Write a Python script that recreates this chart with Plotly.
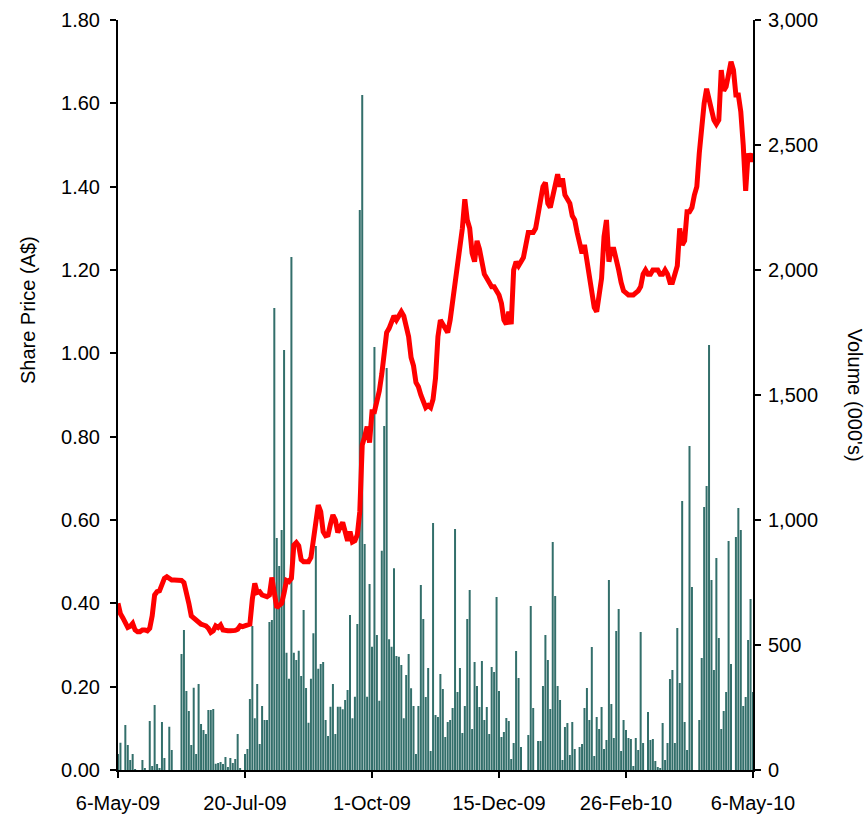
import plotly.graph_objects as go

# Share price (A$) per trading day, 6-May-09 .. 6-May-10
price = [
    0.40, 0.375, 0.365, 0.35, 0.342, 0.345, 0.352, 0.336, 0.332, 0.332,
    0.336, 0.336, 0.334, 0.34, 0.37, 0.42, 0.428, 0.43, 0.445, 0.46,
    0.464, 0.46, 0.456, 0.456, 0.456, 0.456, 0.455, 0.45, 0.43, 0.40,
    0.37, 0.364, 0.36, 0.356, 0.35, 0.348, 0.346, 0.34, 0.33, 0.334,
    0.346, 0.342, 0.348, 0.336, 0.334, 0.334, 0.334, 0.334, 0.335, 0.338,
    0.346, 0.344, 0.346, 0.35, 0.35, 0.41, 0.448, 0.426, 0.428, 0.42,
    0.418, 0.416, 0.42, 0.462, 0.425, 0.39, 0.395, 0.40, 0.425, 0.455,
    0.452, 0.46, 0.54, 0.546, 0.538, 0.505, 0.50, 0.50, 0.50, 0.51,
    0.56, 0.61, 0.636, 0.62, 0.572, 0.562, 0.564, 0.59, 0.612, 0.60,
    0.57, 0.584, 0.594, 0.572, 0.55, 0.572, 0.547, 0.55, 0.565, 0.62,
    0.78, 0.80, 0.824, 0.786, 0.86, 0.86, 0.88, 0.91, 0.95, 1.00,
    1.05, 1.06, 1.08, 1.09, 1.08, 1.09, 1.10, 1.09, 1.07, 1.04,
    0.99, 0.97, 0.93, 0.92, 0.90, 0.88, 0.87, 0.875, 0.87, 0.89,
    0.94, 1.04, 1.08, 1.07, 1.06, 1.05, 1.08, 1.12, 1.16, 1.20,
    1.24, 1.30, 1.37, 1.32, 1.30, 1.24, 1.22, 1.27, 1.25, 1.21,
    1.19, 1.18, 1.17, 1.16, 1.16, 1.15, 1.14, 1.12, 1.08, 1.07,
    1.10, 1.07, 1.20, 1.22, 1.21, 1.22, 1.23, 1.26, 1.29, 1.29,
    1.29, 1.30, 1.34, 1.37, 1.40, 1.41, 1.36, 1.35, 1.38, 1.41,
    1.43, 1.40, 1.42, 1.38, 1.37, 1.36, 1.33, 1.32, 1.29, 1.26,
    1.24, 1.26, 1.22, 1.19, 1.15, 1.11, 1.10, 1.15, 1.18, 1.28,
    1.32, 1.22, 1.25, 1.25, 1.23, 1.20, 1.17, 1.15, 1.145, 1.14,
    1.14, 1.14, 1.145, 1.15, 1.16, 1.19, 1.20, 1.19, 1.19, 1.20,
    1.20, 1.20, 1.19, 1.19, 1.20, 1.19, 1.17, 1.17, 1.19, 1.21,
    1.30, 1.26, 1.27, 1.34, 1.34, 1.35, 1.38, 1.40, 1.48, 1.55,
    1.60, 1.635, 1.61, 1.59, 1.56, 1.55, 1.56, 1.68, 1.63, 1.64,
    1.67, 1.70, 1.68, 1.62, 1.62, 1.58, 1.50, 1.39, 1.48, 1.46,
    1.48,
]

# Volume (000's) per trading day
volume = [
    64, 109, 0, 180, 100, 40, 64, 2, 0, 0,
    40, 5, 0, 196, 16, 260, 24, 5, 192, 48,
    0, 173, 80, 0, 0, 0, 464, 560, 316, 236,
    100, 329, 64, 344, 184, 160, 144, 240, 240, 244,
    25, 28, 32, 24, 52, 12, 48, 28, 44, 144,
    8, 0, 64, 84, 284, 576, 207, 344, 104, 256,
    200, 200, 592, 600, 1848, 928, 816, 960, 1680, 469,
    365, 2052, 469, 440, 477, 376, 640, 328, 189, 365,
    547, 896, 405, 424, 432, 200, 136, 253, 344, 144,
    253, 253, 243, 280, 320, 620, 207, 293, 584, 2240,
    2700, 904, 293, 744, 493, 1692, 540, 277, 877, 1376,
    1608, 523, 493, 807, 456, 453, 420, 207, 380, 464,
    327, 256, 64, 256, 740, 604, 292, 408, 76, 988,
    220, 212, 384, 324, 132, 192, 200, 248, 964, 312,
    408, 148, 256, 604, 720, 164, 432, 336, 252, 436,
    200, 252, 144, 412, 392, 692, 316, 132, 152, 208,
    196, 44, 108, 476, 368, 92, 0, 0, 140, 656,
    248, 0, 116, 116, 336, 540, 440, 244, 912, 696,
    336, 280, 40, 172, 188, 60, 192, 84, 0, 92,
    104, 248, 328, 200, 492, 56, 212, 164, 252, 84,
    120, 760, 264, 128, 556, 644, 76, 200, 160, 128,
    124, 16, 128, 80, 552, 108, 0, 232, 120, 124,
    36, 12, 8, 188, 40, 108, 364, 400, 108, 568,
    348, 1076, 192, 80, 1296, 732, 0, 0, 200, 448,
    1052, 1136, 1700, 760, 400, 848, 528, 164, 236, 312,
    916, 424, 0, 932, 1048, 960, 256, 292, 520, 684,
    312,
]

tick_days = [0, 52, 104, 156, 208, 260]
tick_labels = ["6-May-09", "20-Jul-09", "1-Oct-09", "15-Dec-09", "26-Feb-10", "6-May-10"]

days = list(range(len(volume)))

FONT = "Liberation Sans, Arial, sans-serif"
FS = 20

fig = go.Figure()
fig.add_trace(go.Bar(
    x=days, y=volume, yaxis="y",
    marker=dict(color="#336F6B", line=dict(width=0)),
    name="Volume",
))
fig.add_trace(go.Scatter(
    x=days, y=price, yaxis="y2", mode="lines",
    line=dict(color="#FF0000", width=5),
    name="Share Price",
))

axis_common = dict(
    showline=True, linecolor="black", linewidth=2,
    ticks="outside", ticklen=6, tickwidth=2, tickcolor="black",
    showgrid=False, zeroline=False, automargin=False,
    tickfont=dict(family=FONT, size=FS, color="black"),
)

fig.update_layout(
    width=868, height=818,
    margin=dict(l=118, r=115, t=20, b=48),
    paper_bgcolor="white", plot_bgcolor="white",
    showlegend=False,
    bargap=0.18,
    xaxis=dict(
        range=[0, 260],
        tickmode="array", tickvals=tick_days, ticktext=tick_labels,
        ticklabelstandoff=8,
        **axis_common,
    ),
    yaxis=dict(
        side="right", range=[0, 3000], dtick=500, tickformat=",.0f",
        ticklabelstandoff=3,
        **axis_common,
    ),
    yaxis2=dict(
        side="left", overlaying="y", range=[0, 1.8], dtick=0.2, tickformat=".2f",
        ticklabelstandoff=6,
        **axis_common,
    ),
    annotations=[
        dict(text="Share Price (A$)", xref="paper", yref="paper",
             x=-0.142, y=0.613, textangle=-90, showarrow=False,
             xanchor="center", yanchor="middle",
             font=dict(family=FONT, size=FS, color="black")),
        dict(text="Volume (000's)", xref="paper", yref="paper",
             x=1.161, y=0.5, textangle=90, showarrow=False,
             xanchor="center", yanchor="middle",
             font=dict(family=FONT, size=FS, color="black")),
    ],
)

fig.write_html(
    "out.html",
    config={"displayModeBar": False},
    post_script="document.body.style.margin='0';document.body.style.padding='0';",
)
